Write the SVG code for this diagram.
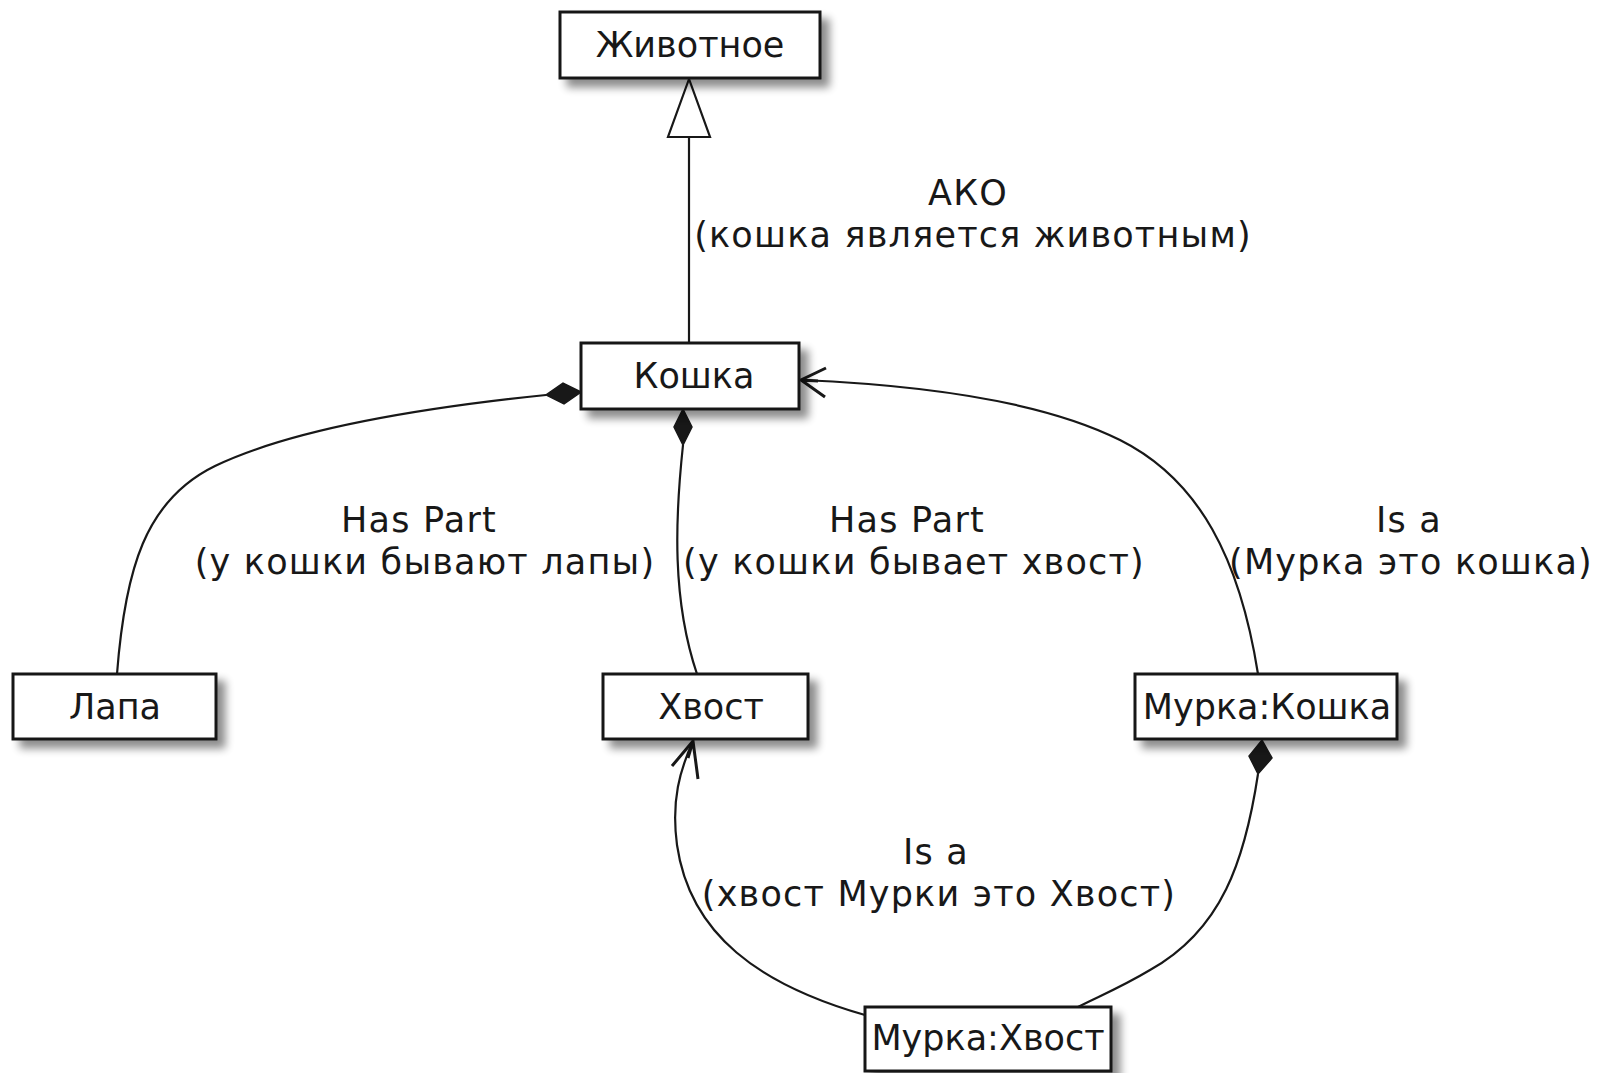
<svg xmlns="http://www.w3.org/2000/svg" width="1606" height="1073" viewBox="0 0 1606 1073">
<defs>
<filter id="shadow" x="-20%" y="-40%" width="140%" height="180%">
<feGaussianBlur in="SourceAlpha" stdDeviation="4"/>
<feOffset dx="8" dy="8" result="b"/>
<feComponentTransfer><feFuncA type="linear" slope="0.45"/></feComponentTransfer>
<feMerge><feMergeNode/><feMergeNode in="SourceGraphic"/></feMerge>
</filter>
</defs>
<style>
.box{fill:#ffffff;stroke:#181818;stroke-width:3;filter:url(#shadow)}
.name{font-family:"DejaVu Sans",sans-serif;font-size:35px;fill:#181818;text-anchor:middle}
.lbl{font-family:"DejaVu Sans",sans-serif;font-size:35px;fill:#181818;text-anchor:middle;letter-spacing:1.2px}
.edge{fill:none;stroke:#181818;stroke-width:2.2}
.head{fill:none;stroke:#181818;stroke-width:3;stroke-linejoin:miter}
.dia{fill:#181818;stroke:#181818;stroke-width:1.5}
.tri{fill:#ffffff;stroke:#181818;stroke-width:2.2}
</style>
<rect width="1606" height="1073" fill="#ffffff"/>
<g id="connectors">
<g id="e-ako">
<path class="edge" d="M689,343 L689,137"/>
<polygon class="tri" points="689,79 668,137 710,137"/>
<text class="lbl" x="968" y="205">АКО</text>
<text class="lbl" x="973" y="247">(кошка является животным)</text>
</g>
<g id="e-lapa">
<path class="edge" d="M117,674 C125,570 145,500 215,466 C290,430 420,408 546,395"/>
<polygon class="dia" points="581,392 563,383 546,395 564,404"/>
<text class="lbl" x="419" y="532">Has Part</text>
<text class="lbl" x="425" y="574">(у кошки бывают лапы)</text>
</g>
<g id="e-hvost">
<path class="edge" d="M683,445 C675,520 672,600 697,674"/>
<polygon class="dia" points="683,409 692,427 683,445 674,427"/>
<text class="lbl" x="907" y="532">Has Part</text>
<text class="lbl" x="914" y="574">(у кошки бывает хвост)</text>
</g>
<g id="e-murka">
<path class="edge" d="M1258,674 C1240,560 1200,480 1120,440 C1040,400 920,385 801,380"/>
<path class="head" d="M826,368 L801,380 L825,397 M801,380 L818,381"/>
</g>
<g id="e-murka-lbl">
<text class="lbl" x="1409" y="532">Is a</text>
<text class="lbl" x="1411" y="574">(Мурка это кошка)</text>
</g>
<g id="e-murka-hvost">
<path class="edge" d="M865,1015 C760,985 690,935 677,845 C671,800 680,770 693,741"/>
<path class="head" d="M672,766 L693,741 L698,779 M693,741 L688,758"/>
<text class="lbl" x="936" y="864">Is a</text>
<text class="lbl" x="939" y="906">(хвост Мурки это Хвост)</text>
</g>
<g id="e-murka-part">
<path class="edge" d="M1258,774 C1245,860 1222,930 1150,970 C1120,988 1095,998 1078,1007"/>
<polygon class="dia" points="1262,740 1272,758 1258,774 1249,756"/>
</g>
</g>
<g id="node-zhivotnoe">
<rect class="box" x="560" y="12" width="260" height="66"/>
<text class="name" x="690" y="57">Животное</text>
</g>
<g id="node-koshka">
<rect class="box" x="581" y="343" width="218" height="66"/>
<text class="name" x="694" y="388">Кошка</text>
</g>
<g id="node-lapa">
<rect class="box" x="13" y="674" width="203" height="65"/>
<text class="name" x="115" y="719">Лапа</text>
</g>
<g id="node-hvost">
<rect class="box" x="603" y="674" width="205" height="65"/>
<text class="name" x="711" y="719">Хвост</text>
</g>
<g id="node-murka-koshka">
<rect class="box" x="1135" y="674" width="262" height="65"/>
<text class="name" x="1267" y="719">Мурка:Кошка</text>
</g>
<g id="node-murka-hvost">
<rect class="box" x="865" y="1007" width="246" height="64"/>
<text class="name" x="988" y="1050">Мурка:Хвост</text>
</g>
</svg>
